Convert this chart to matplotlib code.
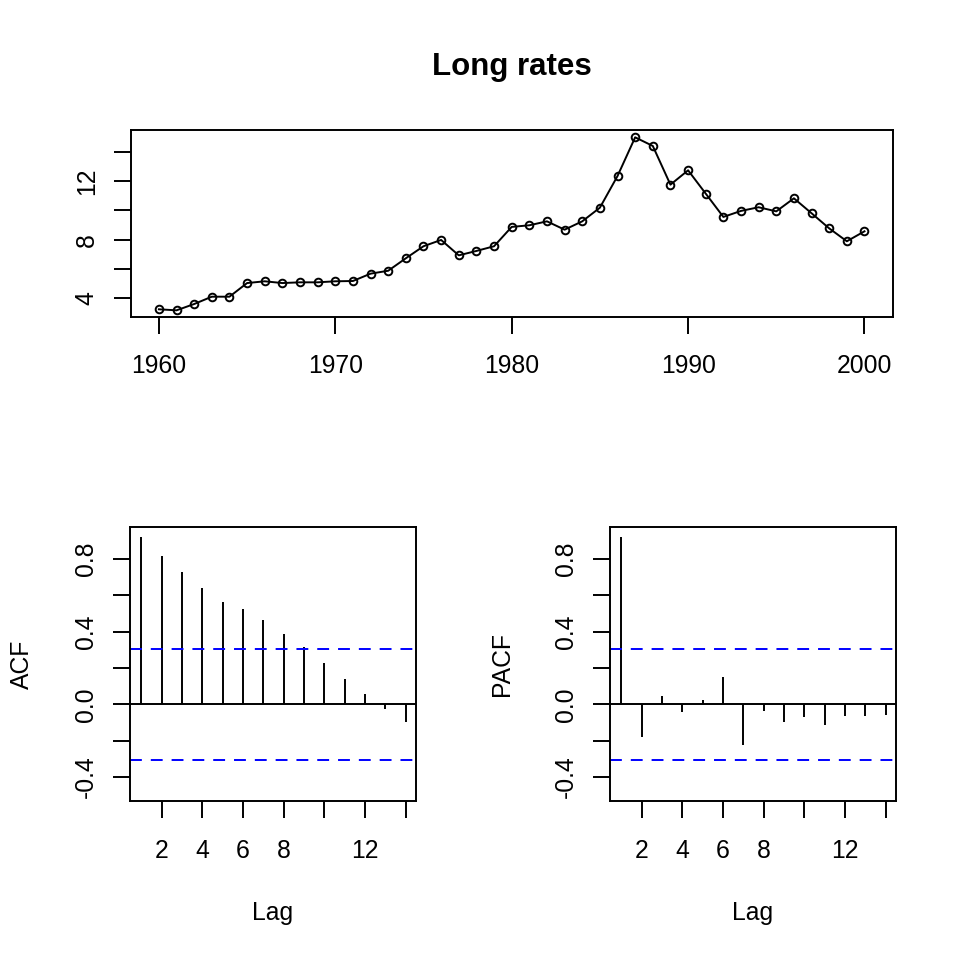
import matplotlib.pyplot as plt

plt.rcParams["font.family"] = ["Liberation Sans", "DejaVu Sans"]

# yearly long-term interest rates
years = list(range(1960, 2001))
long_rates = [
    3.25, 3.18, 3.61, 4.11, 4.11, 5.04, 5.16, 5.04, 5.09, 5.09,
    5.16, 5.18, 5.68, 5.88, 6.73, 7.55, 7.98, 6.93, 7.23, 7.55,
    8.87, 8.98, 9.25, 8.68, 9.25, 10.18, 12.34, 14.98, 14.39, 11.75,
    12.73, 11.14, 9.55, 9.96, 10.21, 9.93, 10.82, 9.80, 8.77, 7.89,
    8.57,
]

lags = list(range(1, 15))
acf_values = [
    0.923, 0.817, 0.727, 0.640, 0.565, 0.525, 0.462,
    0.389, 0.316, 0.229, 0.138, 0.059, -0.028, -0.097,
]
pacf_values = [
    0.923, -0.178, 0.046, -0.044, 0.024, 0.152, -0.224,
    -0.035, -0.099, -0.072, -0.112, -0.062, -0.064, -0.057,
]
conf_limit = 0.306

year_ticks = [1960, 1970, 1980, 1990, 2000]
rate_ticks = [4, 6, 8, 10, 12, 14]
rate_labels = ["4", "", "8", "", "12", ""]
lag_ticks = [2, 4, 6, 8, 10, 12, 14]
lag_labels = ["2", "4", "6", "8", "", "12", ""]
corr_ticks = [-0.4, -0.2, 0.0, 0.2, 0.4, 0.6, 0.8]
corr_labels = ["-0.4", "", "0.0", "", "0.4", "", "0.8"]

FS = 17.8
LW = 1.4


def style_axes(ax, xpad=15, ypad=11):
    for spine in ax.spines.values():
        spine.set_linewidth(LW)
    ax.tick_params(direction="out", length=12, width=LW,
                   labelsize=FS, color="black")
    ax.tick_params(axis="x", pad=xpad)
    ax.tick_params(axis="y", pad=ypad, labelrotation=90)
    for lab in ax.get_yticklabels():
        lab.set_va("center")


def draw_series(ax):
    ax.plot(
        years, long_rates,
        color="black", lw=LW,
        marker="o", markersize=5.5, mfc="none", mew=LW
    )
    ax.set_xlim(1958.4, 2001.6)
    ax.set_ylim(2.745, 15.48)
    ax.set_xticks(year_ticks)
    ax.set_xticklabels([str(y) for y in year_ticks])
    ax.set_yticks(rate_ticks)
    ax.set_yticklabels(rate_labels)
    style_axes(ax)


def draw_correlogram(ax, values, ylabel):
    ax.vlines(lags, 0, values, color="black", lw=LW)
    ax.axhline(0, color="black", lw=LW)
    for c in (conf_limit, -conf_limit):
        ax.axhline(c, color="blue", lw=LW, dashes=(6.1, 4.6))
    ax.set_xlim(0.45, 14.5)
    ax.set_ylim(-0.532, 0.978)
    ax.set_xticks(lag_ticks)
    ax.set_xticklabels(lag_labels)
    ax.set_yticks(corr_ticks)
    ax.set_yticklabels(corr_labels)
    style_axes(ax)
    ax.set_xlabel("Lag", fontsize=FS, va="center")
    ax.xaxis.set_label_coords(0.5, -0.4065)
    ax.set_ylabel(ylabel, fontsize=FS, va="center")
    ax.yaxis.set_label_coords(-0.378, 0.5)


def main():
    fig = plt.figure(figsize=(9.6, 9.6), dpi=100)

    ax_top = fig.add_axes([0.1361, 0.6701, 0.7938, 0.1945])
    ax_acf = fig.add_axes([0.1354, 0.1656, 0.2976, 0.2857])
    ax_pacf = fig.add_axes([0.6354, 0.1656, 0.2976, 0.2857])

    draw_series(ax_top)
    draw_correlogram(ax_acf, acf_values, "ACF")
    draw_correlogram(ax_pacf, pacf_values, "PACF")

    fig.text(
        511.7 / 960, 1 - 67.5 / 960, "Long rates",
        ha="center", va="center",
        fontsize=22.5, fontweight="bold"
    )

    fig.savefig("out.png", dpi=100)
    plt.close(fig)


if __name__ == "__main__":
    main()
